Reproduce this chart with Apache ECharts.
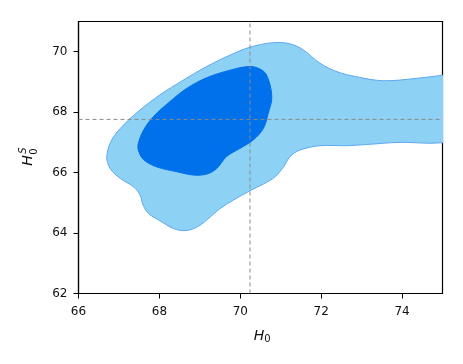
<!DOCTYPE html>
<html style="height: 100%">
<head>
<meta charset="utf-8">
<script src="https://cdn.jsdelivr.net/npm/echarts@6/dist/echarts.min.js"></script>
</head>
<body style="height: 100%; margin: 0; background: #fff">
<div id="container" style="width: 463px; height: 364px"></div>
<script type="text/javascript">
// axis ticks
var h0Ticks = [66, 68, 70, 72, 74];
var hsTicks = [62, 64, 66, 68, 70];

// outer (95%) contour, runs past the right edge and gets clipped
var outerH0 = [66.70, 66.82, 67.11, 67.52, 68.01, 68.59, 69.17, 69.75, 70.24, 70.82, 71.23, 71.56, 71.97, 72.39, 72.88, 73.54, 74.37, 75.00, 75.60,
               75.60, 75.00, 74.70, 73.95, 73.13, 72.63, 71.97, 71.48, 71.23, 71.07, 70.86, 70.57, 70.24, 69.83, 69.50, 69.17, 68.92, 68.63,
               68.35, 68.01, 67.73, 67.60, 67.52, 67.36, 67.03, 66.78];
var outerHS = [66.53, 67.08, 67.57, 68.07, 68.57, 69.06, 69.51, 69.89, 70.15, 70.30, 70.26, 70.06, 69.62, 69.34, 69.17, 69.04, 69.12, 69.22, 69.30,
               66.98, 66.99, 66.97, 67.00, 66.93, 66.89, 66.89, 66.75, 66.53, 66.19, 65.86, 65.62, 65.40, 65.09, 64.81, 64.43, 64.19, 64.08,
               64.15, 64.41, 64.65, 64.92, 65.26, 65.53, 65.81, 66.14];

// inner (68%) contour
var innerH0 = [67.48, 67.61, 67.85, 68.26, 68.68, 69.17, 69.75, 70.20, 70.45, 70.65, 70.78, 70.69, 70.57, 70.32, 69.99, 69.66,
               69.42, 69.17, 68.84, 68.43, 67.93, 67.60, 67.48];
var innerHS = [66.97, 67.41, 67.85, 68.35, 68.79, 69.14, 69.39, 69.51, 69.45, 69.23, 68.51, 67.96, 67.46, 67.08, 66.80, 66.53,
               66.14, 65.95, 65.92, 66.03, 66.19, 66.44, 66.75];

// reference values (dashed lines)
var bestH0 = 70.24;
var bestHS = 67.76;

var dom = document.getElementById("container");
var myChart = echarts.init(dom, null, {renderer: 'canvas'});

function contour(xs, ys, fill, stroke) {
    return {
        type: 'custom',
        coordinateSystem: 'cartesian2d',
        clip: true,
        silent: true,
        data: [[xs[0], ys[0]]],
        renderItem: function (params, api) {
            var pts = xs.map(function (x, i) { return api.coord([x, ys[i]]); });
            return {
                type: 'polygon',
                shape: {points: pts, smooth: 0.35},
                style: {fill: fill, stroke: stroke, lineWidth: 1}
            };
        }
    };
}

var tickFont = 'DejaVu Sans';

var option = {
    animation: false,
    grid: {
        left: 78.5, right: 20.5, top: 21.5, bottom: 70.5,
        show: true, borderColor: '#000', borderWidth: 1.2, backgroundColor: 'transparent'
    },
    xAxis: {
        type: 'value', min: 66, max: 75,
        splitLine: {show: false},
        axisLine: {lineStyle: {color: '#000', width: 1.2}},
        axisTick: {customValues: h0Ticks, length: 5, lineStyle: {color: '#000', width: 1}},
        axisLabel: {customValues: h0Ticks, color: '#111', fontSize: 12, fontFamily: tickFont, margin: 12}
    },
    yAxis: {
        type: 'value', min: 62, max: 71,
        splitLine: {show: false},
        axisLine: {lineStyle: {color: '#000', width: 1.2}},
        axisTick: {customValues: hsTicks, length: 5, lineStyle: {color: '#000', width: 1}},
        axisLabel: {customValues: hsTicks, color: '#111', fontSize: 12, fontFamily: tickFont, margin: 11}
    },
    series: [
        contour(outerH0, outerHS, '#8dd1f4', '#5ea9ef'),
        contour(innerH0, innerHS, '#0071eb', '#0071eb'),
        {
            type: 'line', symbol: 'none', silent: true,
            data: [[bestH0, 62], [bestH0, 71]],
            lineStyle: {color: '#8a8a8a', width: 1, type: [4, 3]}
        },
        {
            type: 'line', symbol: 'none', silent: true,
            data: [[66, bestHS], [75, bestHS]],
            lineStyle: {color: '#8a8a8a', width: 1, type: [4, 3]}
        }
    ],
    graphic: [
        {type: 'text', x: 259, y: 336.5, style: {text: 'H', font: 'italic 14px DejaVu Sans', fill: '#111', align: 'center', verticalAlign: 'middle'}},
        {type: 'text', x: 267.5, y: 339, style: {text: '0', font: '10px DejaVu Sans', fill: '#111', align: 'center', verticalAlign: 'middle'}},
        {type: 'text', x: 28.5, y: 160.5, rotation: Math.PI / 2, style: {text: 'H', font: 'italic 14px DejaVu Sans', fill: '#111', align: 'center', verticalAlign: 'middle'}},
        {type: 'text', x: 23, y: 150.5, rotation: Math.PI / 2, style: {text: 'S', font: 'italic 10px DejaVu Sans', fill: '#111', align: 'center', verticalAlign: 'middle'}},
        {type: 'text', x: 34, y: 151.5, rotation: Math.PI / 2, style: {text: '0', font: '10px DejaVu Sans', fill: '#111', align: 'center', verticalAlign: 'middle'}}
    ]
};

myChart.setOption(option);
</script>
</body>
</html>
